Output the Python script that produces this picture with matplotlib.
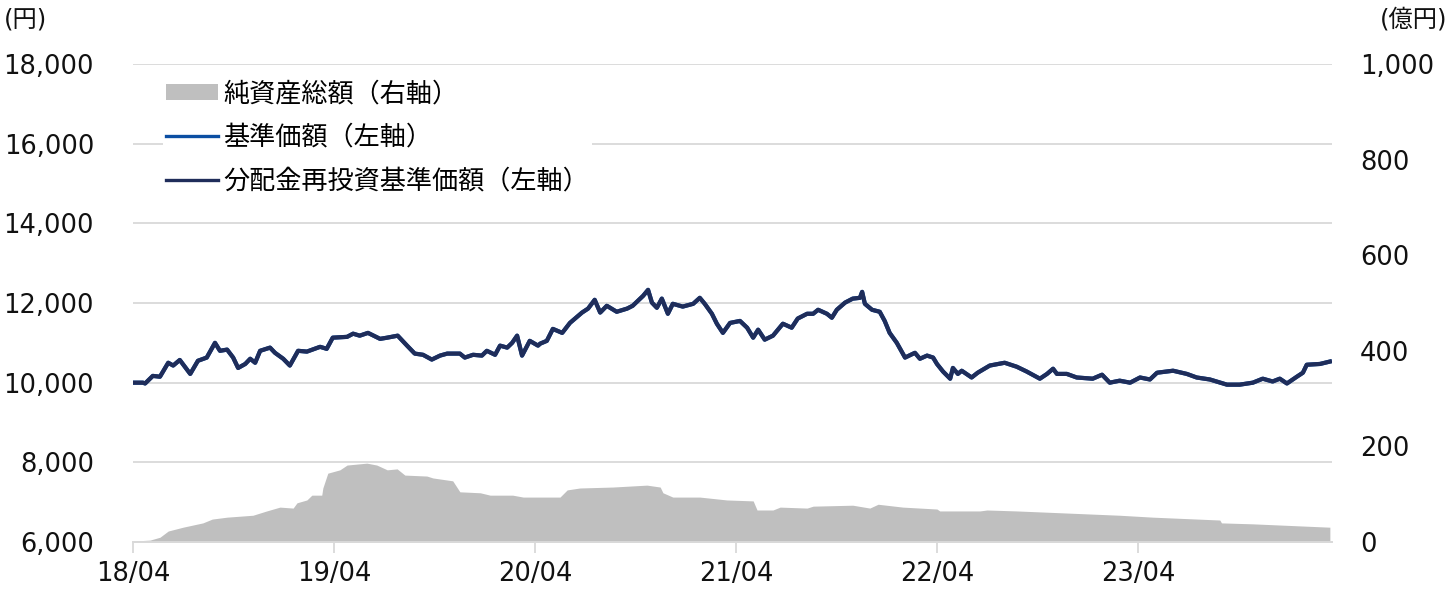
import matplotlib.pyplot as plt
import matplotlib.dates as mdates
from matplotlib.patches import Patch
from matplotlib.lines import Line2D
import pandas as pd

plt.rcParams['font.family'] = ['DejaVu Sans', 'Noto Sans CJK JP']

# 基準価額 (分配金再投資基準価額 と同じ値)
nav_dates = ['2018-04-02', '2018-04-19', '2018-04-23', '2018-05-07', '2018-05-20', '2018-06-04',
             '2018-06-13', '2018-06-25', '2018-07-14', '2018-07-28', '2018-08-13', '2018-08-28',
             '2018-09-06', '2018-09-19', '2018-09-30', '2018-10-09', '2018-10-22', '2018-10-31',
             '2018-11-09', '2018-11-18', '2018-12-06', '2018-12-15', '2018-12-30', '2019-01-11',
             '2019-01-26', '2019-02-11', '2019-03-07', '2019-03-19', '2019-03-30', '2019-04-25',
             '2019-05-06', '2019-05-18', '2019-06-02', '2019-06-24', '2019-07-07', '2019-07-26',
             '2019-08-12', '2019-08-26', '2019-09-10', '2019-09-26', '2019-10-11', '2019-10-24',
             '2019-11-16', '2019-11-25', '2019-12-10', '2019-12-26', '2020-01-04', '2020-01-19',
             '2020-01-28', '2020-02-10', '2020-02-19', '2020-02-28', '2020-03-08', '2020-03-22',
             '2020-04-06', '2020-04-10', '2020-04-22', '2020-05-03', '2020-05-20', '2020-06-03',
             '2020-06-25', '2020-07-06', '2020-07-18', '2020-07-28', '2020-08-09', '2020-08-27',
             '2020-09-15', '2020-09-25', '2020-10-05', '2020-10-14', '2020-10-23', '2020-10-30',
             '2020-11-08', '2020-11-17', '2020-11-28', '2020-12-07', '2020-12-25', '2021-01-13',
             '2021-01-25', '2021-02-03', '2021-02-16', '2021-02-25', '2021-03-08', '2021-03-21',
             '2021-04-08', '2021-04-21', '2021-05-02', '2021-05-11', '2021-05-23', '2021-06-07',
             '2021-06-25', '2021-07-11', '2021-07-22', '2021-08-08', '2021-08-19', '2021-08-28',
             '2021-09-13', '2021-09-22', '2021-10-01', '2021-10-16', '2021-10-30', '2021-11-12',
             '2021-11-16', '2021-11-21', '2021-12-04', '2021-12-18', '2021-12-27', '2022-01-05',
             '2022-01-18', '2022-02-02', '2022-02-20', '2022-03-01', '2022-03-14', '2022-03-25',
             '2022-04-01', '2022-04-12', '2022-04-25', '2022-04-30', '2022-05-09', '2022-05-16',
             '2022-06-03', '2022-06-14', '2022-07-06', '2022-07-21', '2022-08-02', '2022-08-24',
             '2022-09-11', '2022-10-05', '2022-10-18', '2022-10-29', '2022-11-05', '2022-11-23',
             '2022-12-11', '2023-01-09', '2023-01-26', '2023-02-09', '2023-02-27', '2023-03-18',
             '2023-04-05', '2023-04-23', '2023-05-06', '2023-06-04', '2023-06-29', '2023-07-17',
             '2023-08-10', '2023-09-10', '2023-10-03', '2023-10-27', '2023-11-14', '2023-12-02',
             '2023-12-15', '2023-12-28', '2024-01-15', '2024-01-26', '2024-02-02', '2024-02-26',
             '2024-03-15']
nav = [10000, 10000, 9980, 10170, 10150, 10500,
       10430, 10570, 10220, 10550, 10630, 11000,
       10800, 10830, 10630, 10370, 10470, 10600,
       10500, 10800, 10880, 10750, 10600, 10430,
       10800, 10780, 10900, 10850, 11130, 11150,
       11230, 11180, 11250, 11100, 11130, 11180,
       10930, 10730, 10700, 10580, 10680, 10730,
       10730, 10630, 10700, 10680, 10800, 10700,
       10930, 10880, 11000, 11180, 10680, 11050,
       10930, 10980, 11050, 11350, 11250, 11500,
       11760, 11860, 12080, 11760, 11930, 11780,
       11860, 11930, 12060, 12180, 12330, 12010,
       11880, 12110, 11730, 11980, 11910, 11980,
       12130, 11980, 11730, 11480, 11250, 11500,
       11550, 11380, 11130, 11330, 11080, 11180,
       11480, 11380, 11610, 11730, 11730, 11830,
       11730, 11630, 11830, 12010, 12110, 12130,
       12280, 11980, 11830, 11780, 11550, 11250,
       11000, 10630, 10750, 10600, 10680, 10630,
       10470, 10280, 10100, 10370, 10220, 10300,
       10130, 10250, 10430, 10470, 10500, 10400,
       10280, 10100, 10220, 10350, 10220, 10220,
       10130, 10100, 10200, 10000, 10050, 10000,
       10130, 10080, 10250, 10300, 10220, 10130,
       10080, 9950, 9950, 10000, 10100, 10030,
       10100, 9980, 10150, 10250, 10450, 10470,
       10530]

# 純資産総額 (億円)
aum_dates = ['2018-04-02', '2018-05-02', '2018-05-20', '2018-06-04', '2018-07-01', '2018-08-06',
             '2018-08-23', '2018-09-19', '2018-11-05', '2018-11-30', '2018-12-24', '2019-01-17',
             '2019-01-24', '2019-02-11', '2019-02-20', '2019-03-10', '2019-03-12', '2019-03-21',
             '2019-04-12', '2019-04-25', '2019-05-31', '2019-06-18', '2019-07-07', '2019-07-25',
             '2019-08-08', '2019-09-17', '2019-09-28', '2019-11-03', '2019-11-16', '2019-12-23',
             '2020-01-10', '2020-02-20', '2020-03-10', '2020-04-06', '2020-05-16', '2020-05-29',
             '2020-06-21', '2020-08-20', '2020-10-21', '2020-11-14', '2020-11-19', '2020-12-07',
             '2021-01-25', '2021-03-15', '2021-05-02', '2021-05-09', '2021-06-07', '2021-06-20',
             '2021-08-08', '2021-08-19', '2021-10-30', '2021-11-30', '2021-12-15', '2022-01-29',
             '2022-03-01', '2022-04-01', '2022-04-06', '2022-06-18', '2022-07-01', '2022-08-24',
             '2022-10-05', '2023-02-27', '2023-04-28', '2023-08-28', '2023-08-31', '2023-10-27',
             '2024-03-15']
aum = [2, 4, 10, 23, 31, 40,
       48, 52, 56, 65, 73, 71,
       82, 88, 98, 98, 113, 144,
       151, 161, 165, 161, 151, 153,
       140, 138, 134, 128, 105, 103,
       98, 98, 94, 94, 94, 109,
       113, 115, 119, 115, 103, 94,
       94, 88, 86, 67, 67, 73,
       71, 75, 77, 71, 79, 73,
       71, 69, 65, 65, 67, 65,
       63, 56, 52, 46, 40, 38,
       31]

nav_dates = pd.to_datetime(nav_dates)
aum_dates = pd.to_datetime(aum_dates)

fig = plt.figure(figsize=(14.52, 5.97), dpi=100)
ax = fig.add_axes([0.0916, 0.0921, 0.8258, 0.8007])
ax2 = ax.twinx()

ax2.fill_between(aum_dates, 0, aum, color='#bfbfbf', linewidth=0)
ax.plot(nav_dates, nav, color='#0b4ea2', linewidth=3)
ax.plot(nav_dates, nav, color='#1f2d5a', linewidth=3)

ax.set_zorder(ax2.get_zorder() + 1)
ax.patch.set_visible(False)

ax.set_ylim(6000, 18000)
ax.set_yticks(range(6000, 18001, 2000))
ax.set_yticklabels([f'{v:,}' for v in range(6000, 18001, 2000)])
ax2.set_ylim(0, 1000)
ax2.set_yticks(range(0, 1001, 200))
ax2.set_yticklabels([f'{v:,}' for v in range(0, 1001, 200)])

ax.set_xlim(pd.Timestamp('2018-04-01'), pd.Timestamp('2024-03-19'))
ax.xaxis.set_major_locator(mdates.MonthLocator(bymonth=4, bymonthday=1))
ax.xaxis.set_major_formatter(mdates.DateFormatter('%y/%m'))

ax.grid(axis='y', color='#d9d9d9', linewidth=1.3)
ax.set_axisbelow(True)
for a in (ax, ax2):
    for s in ['top', 'left', 'right']:
        a.spines[s].set_visible(False)
    a.spines['bottom'].set_color('#d9d9d9')
    a.spines['bottom'].set_linewidth(1.3)
ax.tick_params(axis='y', length=0, labelsize=18.5, labelcolor='#111111', pad=28)
ax2.tick_params(axis='y', length=0, labelsize=18.5, labelcolor='#111111', pad=20)
ax.tick_params(axis='x', length=8, width=1.3, color='#d9d9d9', labelsize=18.5, labelcolor='#111111', pad=6)

fig.text(0.003, 0.987, '(円)', fontsize=17.5, va='top', ha='left', color='#111111')
fig.text(0.997, 0.987, '(億円)', fontsize=17.5, va='top', ha='right', color='#111111')

handles = [Patch(facecolor='#bfbfbf', edgecolor='none'),
           Line2D([0], [0], color='#0b4ea2', linewidth=2.4),
           Line2D([0], [0], color='#1f2d5a', linewidth=2.4)]
labels = ['純資産総額（右軸）', '基準価額（左軸）', '分配金再投資基準価額（左軸）']
leg = ax.legend(handles, labels, loc='upper left', bbox_to_anchor=(0.0142, 0.997), fontsize=18.8,
                frameon=True, facecolor='white', edgecolor='none', framealpha=1, fancybox=False,
                handlelength=2.0, handleheight=0.55, handletextpad=0.2, labelspacing=0.68, borderpad=0.1)

fig.savefig('out.png', dpi=100)
